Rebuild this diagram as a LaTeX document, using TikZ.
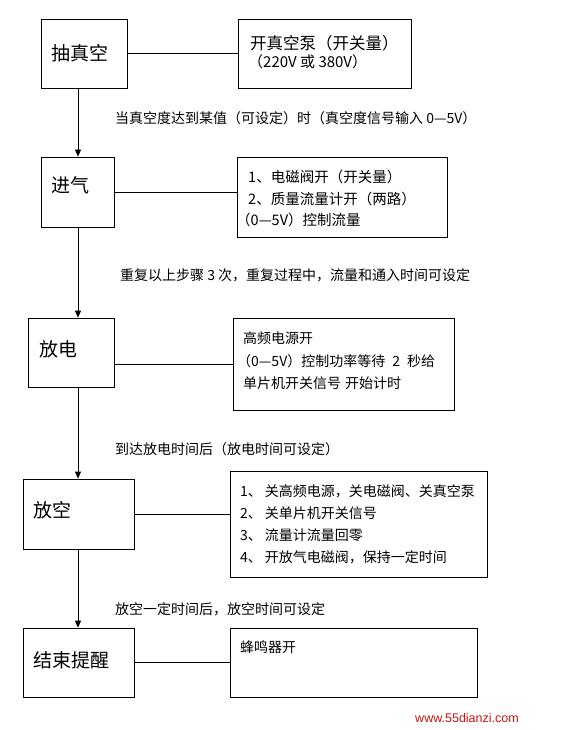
\documentclass[tikz,border=0pt]{standalone}
\usepackage{fontspec}
\setmainfont{Noto Sans CJK SC}
\newfontfamily\wmfont{Liberation Sans}
\usetikzlibrary{arrows.meta}
\definecolor{wmred}{RGB}{200,20,20}
\tikzset{
  box/.style={draw, line width=0.8pt, inner sep=0pt},
  link/.style={line width=0.8pt},
  arr/.style={line width=0.8pt, -{Triangle[width=6pt,length=7pt]}},
  title/.style={anchor=west, inner sep=0pt, font=\fontsize{19}{19}\selectfont},
  txt/.style={anchor=west, inner sep=0pt, font=\fontsize{14}{14}\selectfont},
  txtb/.style={anchor=west, inner sep=0pt, font=\fontsize{14.5}{14.5}\selectfont},
  txta/.style={anchor=west, inner sep=0pt, font=\fontsize{16.5}{16.5}\selectfont},
  txtc/.style={anchor=west, inner sep=0pt, font=\fontsize{15}{15}\selectfont},
  lab/.style={anchor=west, inner sep=0pt, font=\fontsize{14}{14}\selectfont},
}
\begin{document}
\begin{tikzpicture}[x=1pt,y=-1pt]
\useasboundingbox[fill=white] (0,0) rectangle (562,730);
\coordinate (spine) at (78,0);

% step boxes
\node[box, minimum width=86pt, minimum height=69pt] (A) at (84,53.5) {};
\node[box, minimum width=73pt, minimum height=70pt] (B) at (77.5,192) {};
\node[box, minimum width=86pt, minimum height=69pt] (C) at (71,352.5) {};
\node[box, minimum width=111pt, minimum height=70pt] (D) at (78.5,514) {};
\node[box, minimum width=111pt, minimum height=69pt] (E) at (78.5,662.5) {};

% detail boxes
\node[box, minimum width=173pt, minimum height=69pt] (A2) at (324.5,53.5) {};
\node[box, minimum width=210pt, minimum height=80pt] (B2) at (342,197) {};
\node[box, minimum width=221pt, minimum height=92pt] (C2) at (343.5,364) {};
\node[box, minimum width=257pt, minimum height=106pt] (D2) at (358.5,524) {};
\node[box, minimum width=247pt, minimum height=69pt] (E2) at (353.5,662.5) {};

% titles
\node[title] (tA) at (51,53) {抽真空};
\node[title] (tB) at (51,185) {进气};
\node[title] (tC) at (39,349) {放电};
\node[title] (tD) at (33,510) {放空};
\node[title] (tE) at (33,660) {结束提醒};

% detail texts
\node[txta] (a1) at (250,43) {开真空泵（开关量）};
\node[txtc] (a2) at (248,62) {（220V 或 380V）};

\node[txtb] (b1) at (248,177) {1、电磁阀开（开关量）};
\node[txtb] (b2) at (248,199) {2、质量流量计开（两路）};
\node[txtb] (b3) at (236,220) {（0—5V）控制流量};

\node[txt] (c1) at (243,338) {高频电源开};
\node[txt] (c2) at (237,361) {（0—5V）控制功率等待\hspace{7pt}2\hspace{7pt}秒给};
\node[txt] (c3) at (243,383) {单片机开关信号\hspace{4pt}开始计时};

\node[txt] (d1) at (240,491) {1、\hspace{3pt}关高频电源，关电磁阀、关真空泵};
\node[txt] (d2) at (240,513) {2、\hspace{3pt}关单片机开关信号};
\node[txt] (d3) at (240,535) {3、\hspace{3pt}流量计流量回零};
\node[txt] (d4) at (240,557) {4、\hspace{3pt}开放气电磁阀，保持一定时间};

\node[txt] (e1) at (240,647) {蜂鸣器开};

% labels
\node[lab] (l1) at (115,118) {当真空度达到某值（可设定）时（真空度信号输入 0—5V）};
\node[lab] (l2) at (120,275) {重复以上步骤 3 次，重复过程中，流量和通入时间可设定};
\node[lab] (l3) at (115,449) {到达放电时间后（放电时间可设定）};
\node[lab] (l4) at (115,609) {放空一定时间后，放空时间可设定};

% horizontal connectors
\draw[link] (A.east) -- (A2.west);
\draw[link] (B.east) -- (B.east -| B2.west);
\draw[link] (C2.west -| C.east) -- (C2.west);
\draw[link] (D.east) -- (D.east -| D2.west);
\draw[link] (E.east) -- (E2.west);

% vertical arrows
\draw[arr] (A.south -| spine) -- (B.north -| spine);
\draw[arr] (B.south -| spine) -- (C.north -| spine);
\draw[arr] (C.south -| spine) -- (D.north -| spine);
\draw[arr] (D.south -| spine) -- (E.north -| spine);

% watermark
\node[inner sep=0pt, text=wmred, font=\wmfont\fontsize{12.5}{12.5}\selectfont] (wm) at (467,718) {www.55dianzi.com};
\end{tikzpicture}
\end{document}
